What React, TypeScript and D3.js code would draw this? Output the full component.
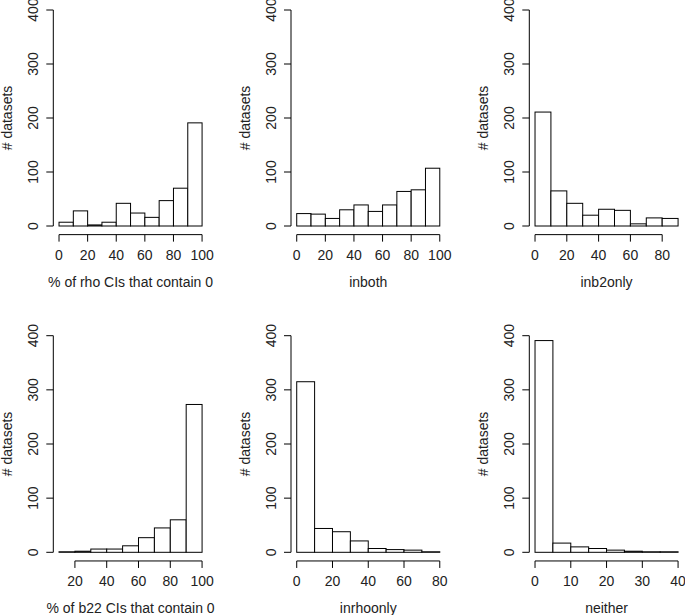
import React from "react";
import * as d3 from "d3";

// ---- data ----
const xLabels = [
  "% of rho CIs that contain 0",
  "inboth",
  "inb2only",
  "% of b22 CIs that contain 0",
  "inrhoonly",
  "neither",
];
const breaksRho = [0, 10, 20, 30, 40, 50, 60, 70, 80, 90, 100];
const countsRho = [7, 28, 2, 7, 42, 24, 16, 47, 70, 191];
const breaksInboth = [0, 10, 20, 30, 40, 50, 60, 70, 80, 90, 100];
const countsInboth = [23, 22, 14, 30, 39, 27, 39, 64, 67, 107];
const breaksInb2only = [0, 10, 20, 30, 40, 50, 60, 70, 80, 90];
const countsInb2only = [211, 65, 42, 20, 31, 29, 4, 15, 14];
const breaksB22 = [10, 20, 30, 40, 50, 60, 70, 80, 90, 100];
const countsB22 = [1, 2, 6, 6, 12, 27, 45, 60, 273];
const breaksInrhoonly = [0, 10, 20, 30, 40, 50, 60, 70, 80];
const countsInrhoonly = [315, 44, 38, 21, 7, 5, 4, 1];
const breaksNeither = [0, 5, 10, 15, 20, 25, 30, 35, 40];
const countsNeither = [391, 17, 10, 7, 4, 2, 1, 1];

const xTicks = [
  [0, 20, 40, 60, 80, 100],
  [0, 20, 40, 60, 80, 100],
  [0, 20, 40, 60, 80],
  [20, 40, 60, 80, 100],
  [0, 20, 40, 60, 80],
  [0, 10, 20, 30, 40],
];
const yTicks = [0, 100, 200, 300, 400];
const yLabel = "# datasets";

const panels = [
  { breaks: breaksRho, counts: countsRho },
  { breaks: breaksInboth, counts: countsInboth },
  { breaks: breaksInb2only, counts: countsInb2only },
  { breaks: breaksB22, counts: countsB22 },
  { breaks: breaksInrhoonly, counts: countsInrhoonly },
  { breaks: breaksNeither, counts: countsNeither },
];

// ---- layout ----
const W = 685;
const H = 615;
const plotLefts = [53.3, 291, 529.3];
const plotW = 154.5;
const rowY0 = [226, 552.3];
const rowY400 = [10, 335.7];
const FONT = "'Liberation Sans', Arial, Helvetica, sans-serif";
const FS = 14;

function Panel({ idx }: { idx: number }) {
  const col = idx % 3;
  const row = Math.floor(idx / 3);
  const { breaks, counts } = panels[idx];
  const lo = breaks[0];
  const hi = breaks[breaks.length - 1];
  const pad = 0.04 * (hi - lo);
  const left = plotLefts[col];
  const x = d3.scaleLinear().domain([lo - pad, hi + pad]).range([left, left + plotW]);
  const y = d3.scaleLinear().domain([0, 400]).range([rowY0[row], rowY400[row]]);
  const axisY = y(-16);
  const axisX = x(lo - pad);
  const ticks = xTicks[idx];
  return (
    <g>
      {counts.map((c, i) => (
        <rect
          key={i}
          x={x(breaks[i])}
          y={y(c)}
          width={x(breaks[i + 1]) - x(breaks[i])}
          height={y(0) - y(c)}
          fill="#fff"
          stroke="#000"
          strokeWidth={1}
        />
      ))}
      {/* y axis */}
      <line x1={axisX} x2={axisX} y1={y(0)} y2={y(400)} stroke="#000" />
      {yTicks.map((t) => (
        <g key={t}>
          <line x1={axisX - 7} x2={axisX} y1={y(t)} y2={y(t)} stroke="#000" />
          <text
            transform={`translate(${axisX - 15},${y(t)}) rotate(-90)`}
            textAnchor="middle"
            fontFamily={FONT}
            fontSize={FS}
            fill="#222"
          >
            {t}
          </text>
        </g>
      ))}
      <text
        transform={`translate(${axisX - 41},${(y(0) + y(400)) / 2}) rotate(-90)`}
        textAnchor="middle"
        fontFamily={FONT}
        fontSize={FS}
        fill="#222"
      >
        {yLabel}
      </text>
      {/* x axis */}
      <line
        x1={x(ticks[0])}
        x2={x(ticks[ticks.length - 1])}
        y1={axisY}
        y2={axisY}
        stroke="#000"
      />
      {ticks.map((t) => (
        <g key={t}>
          <line x1={x(t)} x2={x(t)} y1={axisY} y2={axisY + 7} stroke="#000" />
          <text
            x={x(t)}
            y={axisY + 25}
            textAnchor="middle"
            fontFamily={FONT}
            fontSize={FS}
            fill="#222"
          >
            {t}
          </text>
        </g>
      ))}
      <text
        x={left + plotW / 2}
        y={axisY + 52}
        textAnchor="middle"
        fontFamily={FONT}
        fontSize={FS}
        fill="#222"
      >
        {xLabels[idx]}
      </text>
    </g>
  );
}

export default function App() {
  return (
    <svg
      width={W}
      height={H}
      style={{ position: "absolute", left: 0, top: 0, background: "#fff" }}
    >
      <rect width={W} height={H} fill="#fff" />
      {panels.map((_, i) => (
        <Panel key={i} idx={i} />
      ))}
    </svg>
  );
}
